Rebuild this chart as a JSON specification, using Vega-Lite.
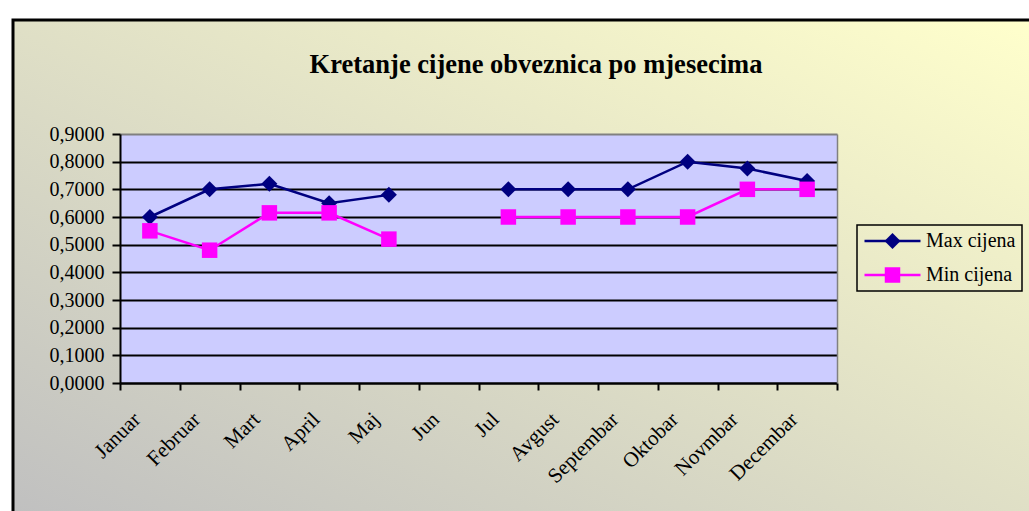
{
  "$schema": "https://vega.github.io/schema/vega-lite/v6.json",
  "autosize": {"type": "none"},
  "width": 1016,
  "height": 491,
  "padding": {"left": 13, "top": 20, "right": 0, "bottom": 0},
  "background": "white",
  "title": {
    "text": "Kretanje cijene obveznica po mjesecima",
    "font": "Liberation Serif",
    "fontSize": 26.5,
    "fontWeight": "bold",
    "color": "black",
    "anchor": "middle",
    "frame": "group",
    "offset": 0,
    "baseline": "alphabetic",
    "dx": 15,
    "dy": 79
  },
  "data": {
    "values": [
      {"mjesec": "Januar", "serija": "Max cijena", "cijena": 0.60},
      {"mjesec": "Februar", "serija": "Max cijena", "cijena": 0.70},
      {"mjesec": "Mart", "serija": "Max cijena", "cijena": 0.72},
      {"mjesec": "April", "serija": "Max cijena", "cijena": 0.65},
      {"mjesec": "Maj", "serija": "Max cijena", "cijena": 0.68},
      {"mjesec": "Jun", "serija": "Max cijena", "cijena": null},
      {"mjesec": "Jul", "serija": "Max cijena", "cijena": 0.70},
      {"mjesec": "Avgust", "serija": "Max cijena", "cijena": 0.70},
      {"mjesec": "Septembar", "serija": "Max cijena", "cijena": 0.70},
      {"mjesec": "Oktobar", "serija": "Max cijena", "cijena": 0.80},
      {"mjesec": "Novmbar", "serija": "Max cijena", "cijena": 0.775},
      {"mjesec": "Decembar", "serija": "Max cijena", "cijena": 0.73},
      {"mjesec": "Januar", "serija": "Min cijena", "cijena": 0.55},
      {"mjesec": "Februar", "serija": "Min cijena", "cijena": 0.48},
      {"mjesec": "Mart", "serija": "Min cijena", "cijena": 0.615},
      {"mjesec": "April", "serija": "Min cijena", "cijena": 0.615},
      {"mjesec": "Maj", "serija": "Min cijena", "cijena": 0.52},
      {"mjesec": "Jun", "serija": "Min cijena", "cijena": null},
      {"mjesec": "Jul", "serija": "Min cijena", "cijena": 0.60},
      {"mjesec": "Avgust", "serija": "Min cijena", "cijena": 0.60},
      {"mjesec": "Septembar", "serija": "Min cijena", "cijena": 0.60},
      {"mjesec": "Oktobar", "serija": "Min cijena", "cijena": 0.60},
      {"mjesec": "Novmbar", "serija": "Min cijena", "cijena": 0.70},
      {"mjesec": "Decembar", "serija": "Min cijena", "cijena": 0.70}
    ]
  },
  "layer": [
    {
      "mark": {"type": "line", "strokeWidth": 2.5, "invalid": "break-paths-show-domains"},
      "encoding": {
        "x": {
          "field": "mjesec", "type": "nominal",
          "sort": ["Januar", "Februar", "Mart", "April", "Maj", "Jun", "Jul", "Avgust", "Septembar", "Oktobar", "Novmbar", "Decembar"],
          "scale": {"range": [107, 824], "paddingInner": 0, "paddingOuter": 0},
          "axis": {
            "orient": "top", "offset": -114, "values": ["Jun"], "bandPosition": 1,
            "labels": false, "ticks": false, "domain": false, "title": null,
            "grid": true, "gridColor": "#CCCCFF", "gridWidth": 717, "gridOpacity": 1
          }
        },
        "y": {
          "field": "cijena", "type": "quantitative",
          "scale": {"domain": [0, 0.9], "range": [363, 114], "nice": false, "zero": true},
          "axis": {
            "orient": "right", "offset": -192, "values": [0.45],
            "labels": false, "ticks": false, "title": null, "grid": false,
            "domain": true, "domainColor": "#808080", "domainWidth": 1.5
          }
        },
        "color": {
          "field": "serija", "type": "nominal",
          "scale": {"domain": ["Max cijena", "Min cijena"], "range": ["#000080", "#FF00FF"]},
          "legend": {
            "orient": "none", "legendX": 844, "legendY": 205, "title": null,
            "strokeColor": "black", "padding": 6,
            "symbolType": "stroke", "symbolSize": 3136, "symbolStrokeWidth": 2.5,
            "clipHeight": 20, "rowPadding": 14,
            "labelOffset": 4, "labelFont": "Liberation Serif", "labelFontSize": 20, "labelColor": "black", "labelLimit": 300,
            "labelExpr": "datum.label + ' '",
            "encode": {
              "legend": {"update": {"strokeWidth": {"value": 1.5}}}
            }
          }
        }
      }
    },
    {
      "transform": [{"filter": "datum.serija === 'Max cijena'"}],
      "mark": {"type": "point", "filled": true, "opacity": 1, "size": 256, "shape": "diamond"},
      "encoding": {
        "x": {
          "field": "mjesec", "type": "nominal",
          "sort": ["Januar", "Februar", "Mart", "April", "Maj", "Jun", "Jul", "Avgust", "Septembar", "Oktobar", "Novmbar", "Decembar"],
          "scale": {"range": [107, 824], "paddingInner": 0, "paddingOuter": 0},
          "axis": {
            "orient": "bottom", "offset": -128, "title": null, "grid": false,
            "domainColor": "black", "domainWidth": 2,
            "tickColor": "black", "tickWidth": 2, "tickSize": 7, "tickBand": "extent",
            "labelAngle": -45, "labelAlign": "right", "labelBaseline": "middle",
            "labelFont": "Liberation Serif", "labelFontSize": 21, "labelColor": "black",
            "labelPadding": 26, "labelOffset": -13, "labelOverlap": false, "labelLimit": 300
          }
        },
        "y": {
          "field": "cijena", "type": "quantitative",
          "scale": {"domain": [0, 0.9], "range": [363, 114], "nice": false, "zero": true},
          "axis": {
            "orient": "left", "offset": -107, "title": null,
            "values": [0, 0.1, 0.2, 0.3, 0.4, 0.5, 0.6, 0.7, 0.8, 0.9],
            "labelExpr": "replace(format(datum.value, '.4f'), '.', ',')",
            "domainColor": "black", "domainWidth": 2,
            "tickColor": "black", "tickWidth": 2, "tickSize": 8,
            "labelFont": "Liberation Serif", "labelFontSize": 20, "labelColor": "black",
            "labelPadding": 8, "labelFlush": false, "labelOverlap": false,
            "grid": true, "gridWidth": 2,
            "gridColor": {"condition": {"test": "datum.value > 0.85", "value": "#808080"}, "value": "black"}
          }
        },
        "color": {
          "field": "serija", "type": "nominal",
          "scale": {"domain": ["Max cijena", "Min cijena"], "range": ["#000080", "#FF00FF"]},
          "legend": {
            "orient": "none", "legendX": 844, "legendY": 205, "title": null,
            "values": ["Max cijena"],
            "strokeColor": null, "padding": 6,
            "symbolType": "diamond", "symbolSize": 256, "symbolStrokeWidth": 0, "symbolOffset": 19.5,
            "symbolOpacity": 1,
            "clipHeight": 20, "rowPadding": 14,
            "labelOffset": 4, "labelFont": "Liberation Serif", "labelFontSize": 20, "labelOpacity": 0, "labelLimit": 300
          }
        }
      }
    },
    {
      "transform": [{"filter": "datum.serija === 'Min cijena'"}],
      "mark": {"type": "point", "filled": true, "opacity": 1, "size": 240, "shape": "square"},
      "encoding": {
        "x": {
          "field": "mjesec", "type": "nominal",
          "sort": ["Januar", "Februar", "Mart", "April", "Maj", "Jun", "Jul", "Avgust", "Septembar", "Oktobar", "Novmbar", "Decembar"],
          "scale": {"range": [107, 824], "paddingInner": 0, "paddingOuter": 0},
          "axis": null
        },
        "y": {
          "field": "cijena", "type": "quantitative",
          "scale": {"domain": [0, 0.9], "range": [363, 114], "nice": false, "zero": true},
          "axis": null
        },
        "color": {
          "field": "serija", "type": "nominal",
          "scale": {"domain": ["Max cijena", "Min cijena"], "range": ["#000080", "#FF00FF"]},
          "legend": {
            "orient": "none", "legendX": 844, "legendY": 239, "title": null,
            "values": ["Min cijena"],
            "strokeColor": null, "padding": 6,
            "symbolType": "square", "symbolSize": 240, "symbolStrokeWidth": 0, "symbolOffset": 19.5,
            "symbolOpacity": 1,
            "clipHeight": 20, "rowPadding": 14,
            "labelOffset": 4, "labelFont": "Liberation Serif", "labelFontSize": 20, "labelOpacity": 0, "labelLimit": 300
          }
        }
      }
    }
  ],
  "resolve": {
    "axis": {"x": "independent", "y": "independent"},
    "legend": {"color": "independent"}
  },
  "config": {
    "view": {
      "fill": {
        "gradient": "linear", "x1": 0, "y1": 1, "x2": 1, "y2": 0,
        "stops": [{"offset": 0, "color": "#C0C0C0"}, {"offset": 1, "color": "#FFFFCC"}]
      },
      "stroke": "black",
      "strokeWidth": 3,
      "strokeDash": [1016, 1507, 491, 10]
    }
  }
}
